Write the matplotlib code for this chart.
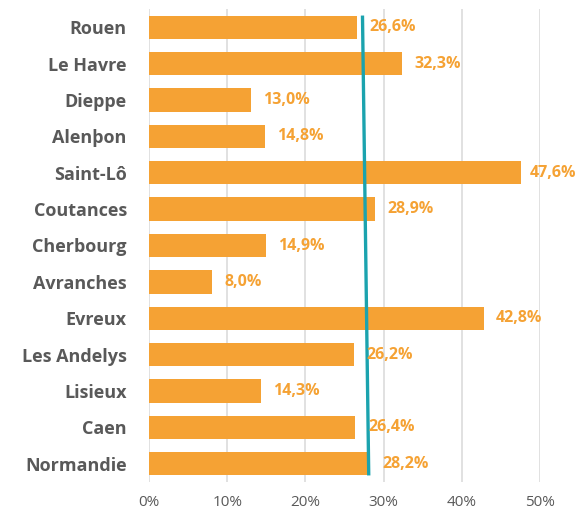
import numpy as np
import matplotlib.pyplot as plt

# Data
villes = ['Rouen', 'Le Havre', 'Dieppe', 'Alenþon', 'Saint-Lô', 'Coutances',
          'Cherbourg', 'Avranches', 'Evreux', 'Les Andelys', 'Lisieux', 'Caen',
          'Normandie']
taux = [26.6, 32.3, 13.0, 14.8, 47.6, 28.9, 14.9, 8.0, 42.8, 26.2, 14.3, 26.4, 28.2]
# Reference line (top end, bottom end), in %
ligne_x = [27.3, 28.1]
xticks = [0, 10, 20, 30, 40, 50]

orange = '#F5A234'
teal = '#1BA3AE'
grey_txt = '#595959'

plt.rcParams['font.family'] = ['Open Sans', 'DejaVu Sans']

fig = plt.figure(figsize=(5.83, 5.13), dpi=100)
ax = fig.add_axes([149 / 583, 31 / 513, 391 / 583, 473 / 513])

y = np.arange(len(villes))
bar_h = 0.64
ax.barh(y, taux, height=bar_h, color=orange, zorder=2)

ax.plot(ligne_x, [y[0] - bar_h / 2, y[-1] + bar_h / 2], color=teal, lw=2.4,
        solid_capstyle='butt', zorder=3)

labels = []
for yi, v in zip(y, taux):
    t = ax.annotate(f'{v:.1f}%'.replace('.', ','), (v, yi), xytext=(9, 0),
                    textcoords='offset points', va='center', ha='left',
                    color=orange, fontsize=11.5, fontweight='bold',
                    annotation_clip=False)
    labels.append(t)

ax.set_xlim(0, 50)
ax.set_ylim(len(villes) - 0.5, -0.5)
ax.set_yticks(y)
ax.set_yticklabels(villes, fontsize=13, fontweight='bold', color=grey_txt)
ax.set_xticks(xticks)
ax.set_xticklabels([f'{t}%' for t in xticks], fontsize=11, color=grey_txt)
ax.tick_params(axis='both', length=0)
ax.tick_params(axis='y', pad=16)
ax.tick_params(axis='x', pad=9)
ax.grid(axis='x', color='#D9D9D9', lw=1.1, zorder=0)
for s in ax.spines.values():
    s.set_visible(False)

# keep value labels inside the figure (pull the long one back)
fig.canvas.draw()
r = fig.canvas.get_renderer()
for t in labels:
    bb = t.get_window_extent(r)
    if bb.x1 > 576:
        off = 9 - (bb.x1 - 576) * 72 / fig.dpi
        t.xyann = (off, 0)

fig.savefig('out.png', dpi=100)
